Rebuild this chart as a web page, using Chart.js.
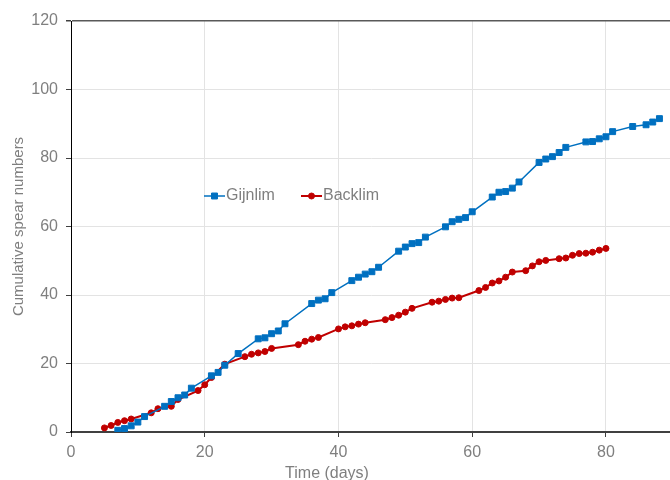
<!DOCTYPE html>
<html>
<head>
<meta charset="utf-8">
<script src="https://cdn.jsdelivr.net/npm/chart.js@4/dist/chart.umd.min.js"></script>
<style>
  html, body { margin: 0; padding: 0; background: #fff; overflow: hidden; }
  #wrap { width: 670px; height: 480px; overflow: hidden; }
</style>
</head>
<body>
<div id="wrap"><canvas id="chart" width="676" height="480"></canvas></div>
<script>
// Gijnlim: day and cumulative spear count
const gijnlimDays = [7, 8, 9, 10, 11, 14, 15, 16, 17, 18, 21, 22, 23, 25, 28, 29, 30, 31, 32,
  36, 37, 38, 39, 42, 43, 44, 45, 46, 49, 50, 51, 52, 53, 56, 57, 58, 59, 60,
  63, 64, 65, 66, 67, 70, 71, 72, 73, 74, 77, 78, 79, 80, 81, 84, 86, 87, 88];
const gijnlimCounts = [0.5, 1.0, 1.8, 2.9, 4.5, 7.5, 8.9, 10.0, 10.8, 12.8, 16.4, 17.4, 19.5, 22.9, 27.2, 27.5, 28.7, 29.5, 31.6,
  37.5, 38.5, 38.9, 40.7, 44.2, 45.2, 46.1, 46.8, 48.1, 52.8, 54.0, 55.0, 55.3, 56.9, 59.9, 61.4, 62.1, 62.6, 64.3,
  68.6, 70.0, 70.2, 71.2, 73.0, 78.7, 79.7, 80.4, 81.6, 83.1, 84.7, 84.8, 85.6, 86.2, 87.7, 89.2, 89.7, 90.5, 91.5];

// Backlim: day and cumulative spear count
const backlimDays = [5, 6, 7, 8, 9, 12, 13, 15, 16, 19, 20, 21, 23, 26, 27, 28, 29, 30,
  34, 35, 36, 37, 40, 41, 42, 43, 44, 47, 48, 49, 50, 51, 54, 55, 56, 57, 58,
  61, 62, 63, 64, 65, 66, 68, 69, 70, 71, 73, 74, 75, 76, 77, 78, 79, 80];
const backlimCounts = [1.2, 1.9, 2.8, 3.3, 3.8, 5.6, 6.8, 7.5, 9.5, 12.1, 13.8, 15.9, 19.8, 22.0, 22.7, 23.1, 23.5, 24.4,
  25.5, 26.5, 27.1, 27.6, 30.1, 30.7, 31.0, 31.5, 31.9, 32.8, 33.4, 34.1, 35.0, 36.1, 37.9, 38.2, 38.7, 39.1, 39.2,
  41.3, 42.2, 43.5, 44.1, 45.2, 46.7, 47.1, 48.5, 49.7, 50.1, 50.6, 50.8, 51.6, 52.1, 52.2, 52.5, 53.1, 53.6];

const xTicks = [0, 20, 40, 60, 80];
const yTicks = [0, 20, 40, 60, 80, 100, 120];

const GREY = '#7f7f7f';
const FONT = 'Liberation Sans, Arial, sans-serif';

const toPoints = (xs, ys) => xs.map((x, i) => ({ x: x, y: ys[i] }));

// legend sits inside the plot, drawn by hand
const legendInPlot = {
  id: 'legendInPlot',
  afterDraw(chart) {
    const ctx = chart.ctx;
    const spots = [204, 301];
    const y = 196;
    ctx.save();
    chart.data.datasets.forEach((ds, i) => {
      const x0 = spots[i];
      ctx.strokeStyle = ds.borderColor;
      ctx.lineWidth = ds.borderWidth;
      ctx.beginPath();
      ctx.moveTo(x0, y);
      ctx.lineTo(x0 + 21, y);
      ctx.stroke();
      ctx.fillStyle = ds.pointBackgroundColor;
      ctx.strokeStyle = ds.borderColor;
      ctx.lineWidth = 1;
      Chart.helpers.drawPoint(ctx, { pointStyle: ds.pointStyle, radius: ds.pointRadius, borderWidth: 1, rotation: 0 }, x0 + 10.5, y);
      ctx.fillStyle = GREY;
      ctx.font = '16px ' + FONT;
      ctx.textBaseline = 'middle';
      ctx.textAlign = 'left';
      ctx.fillText(ds.label, x0 + 22, y);
    });
    // x axis title, sits left of the plot centre in the original
    ctx.fillStyle = GREY;
    ctx.font = '16px ' + FONT;
    ctx.textAlign = 'center';
    ctx.textBaseline = 'alphabetic';
    ctx.fillText('Time (days)', 327, 478);
    ctx.restore();
  }
};

new Chart(document.getElementById('chart'), {
  type: 'line',
  data: {
    datasets: [
      {
        label: 'Gijnlim',
        data: toPoints(gijnlimDays, gijnlimCounts),
        borderColor: '#0070C0',
        backgroundColor: '#0070C0',
        pointBackgroundColor: '#0070C0',
        borderWidth: 1.5,
        pointStyle: 'rect',
        pointRadius: 4.2,
        pointBorderWidth: 1,
        tension: 0
      },
      {
        label: 'Backlim',
        data: toPoints(backlimDays, backlimCounts),
        borderColor: '#C00000',
        backgroundColor: '#C00000',
        pointBackgroundColor: '#C00000',
        borderWidth: 2,
        pointStyle: 'circle',
        pointRadius: 3,
        pointBorderWidth: 1,
        tension: 0
      }
    ]
  },
  options: {
    responsive: false,
    animation: false,
    layout: { padding: { top: 21, right: 0, left: 0, bottom: 0 } },
    plugins: {
      legend: { display: false },
      tooltip: { enabled: false }
    },
    scales: {
      x: {
        type: 'linear',
        min: 0,
        max: 89.7,
        afterBuildTicks: axis => { axis.ticks = xTicks.map(v => ({ value: v })); },
        afterFit: axis => { axis.height = 48; },
        grid: { color: '#e3e3e3', lineWidth: 1, tickLength: 5, tickColor: '#404040' },
        border: { color: '#404040', width: 2 },
        ticks: { color: GREY, font: { family: FONT, size: 16 }, padding: 6, maxRotation: 0 },
        title: { display: false }
      },
      y: {
        min: 0,
        max: 120,
        afterBuildTicks: axis => { axis.ticks = yTicks.map(v => ({ value: v })); },
        afterFit: axis => { axis.width = 71; },
        grid: {
          color: c => (c.tick && c.tick.value === 120 ? '#595959' : '#e3e3e3'),
          lineWidth: c => (c.tick && c.tick.value === 120 ? 1.5 : 1),
          tickLength: 5,
          tickColor: '#404040'
        },
        border: { color: '#000', width: 1 },
        ticks: { color: GREY, font: { family: FONT, size: 16 }, padding: 8 },
        title: {
          display: true,
          text: 'Cumulative spear numbers',
          color: GREY,
          font: { family: FONT, size: 15 },
          padding: { top: 10, bottom: 0 }
        }
      }
    }
  },
  plugins: [legendInPlot]
});
</script>
</body>
</html>
